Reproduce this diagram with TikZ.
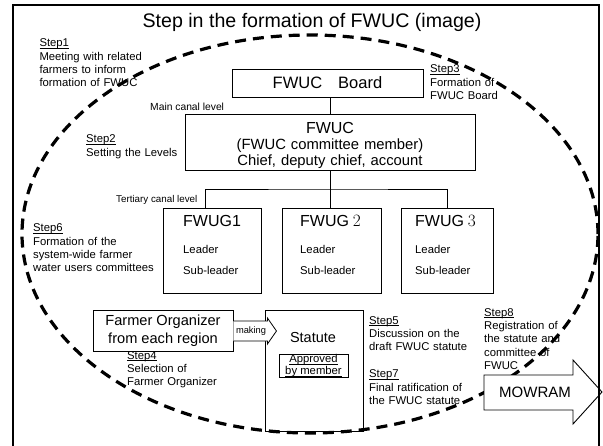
\documentclass[tikz,border=0pt]{standalone}
\usepackage{fontspec}
\setmainfont{Liberation Sans}
% underline that sits just below the baseline, ignoring descenders
\newcommand\stepul[1]{\underline{\raisebox{0pt}[\height][0pt]{#1}}}
\begin{document}
\begin{tikzpicture}[x=1pt,y=-1pt,
  box/.style={draw, line width=0.9pt, fill=white},
  link/.style={line width=0.9pt},
  steptext/.style={anchor=base west, inner sep=0pt, text width=150pt, align=left,
    font=\fontsize{11.3}{13.4}\selectfont},
  levelnote/.style={anchor=base west, inner sep=0pt, font=\fontsize{10.3}{12}\selectfont},
  grouptext/.style={anchor=base west, inner sep=0pt, text width=80pt, align=left,
    font=\fontsize{11.3}{20.7}\selectfont},
  dashline/.style={line width=3.2pt, dash pattern=on 11pt off 7pt}]
\clip (0,0) rectangle (603,445);
\fill[white] (0,0) rectangle (603,445);

% title
\node[anchor=base, inner sep=0pt, font=\fontsize{19.6}{22}\selectfont] (title) at (312,27)
  {Step in the formation of FWUC (image)};

% committee hierarchy
\node[box, minimum width=191pt, minimum height=28pt, inner sep=0pt,
  font=\fontsize{16.5}{18}\selectfont] (board) at (327.5,83) {FWUC\hspace{16pt}Board};
\node[box, minimum width=290pt, minimum height=56pt] (fwuc) at (330,142) {};
\node[anchor=base, inner sep=0pt, text width=290pt, align=center,
  font=\fontsize{14.8}{16}\selectfont] (fwuctext) at (330,133.3)
  {{\fontsize{16}{16}\selectfont FWUC}\\(FWUC committee member)\\Chief, deputy chief, account};

\node[box, minimum width=98pt, minimum height=85pt] (fwug1) at (212,250.5) {};
\node[box, minimum width=99pt, minimum height=85pt] (fwug2) at (331.5,250.5) {};
\node[box, minimum width=92pt, minimum height=85pt] (fwug3) at (447,250.5) {};

\node[grouptext] (g1) at (183,226.7)
  {{\fontsize{16}{16}\selectfont FWUG1}\\[6pt]Leader\\Sub-leader};
\node[grouptext] (g2) at (300,226.7)
  {{\fontsize{16}{16}\selectfont FWUG $2$}\\[6pt]Leader\\Sub-leader};
\node[grouptext] (g3) at (415,226.7)
  {{\fontsize{16}{16}\selectfont FWUG $3$}\\[6pt]Leader\\Sub-leader};

\coordinate (bus) at (330,189);
\draw[link] (board.south -| fwuc.north) -- (fwuc.north);
\draw[link] (fwuc.south) -- (fwug2.north -| fwuc.south);
\draw[link] ([xshift=-7pt]fwug1.north) |- (bus) -| (fwug3.north);

\node[levelnote] (mainlevel) at (150,110) {Main canal level};
\node[levelnote, font=\fontsize{9.8}{12}\selectfont] (terlevel) at (116,202.3) {Tertiary canal level};

% farmer organizer and statute
\node[box, minimum width=140pt, minimum height=41pt, inner sep=0pt, align=center,
  font=\fontsize{14.6}{17.5}\selectfont] (farmer) at (163,330.5)
  {Farmer Organizer\\from each region};
\node[box, minimum width=98pt, minimum height=121pt] (statute) at (314,370.5) {};
\node[anchor=base, inner sep=0pt, font=\fontsize{14.5}{16}\selectfont] (statutetitle)
  at (313,342) {Statute};
\node[draw, line width=0.8pt, minimum width=69pt, minimum height=23pt, inner sep=0pt,
  align=center, font=\fontsize{11.3}{12.5}\selectfont] (approved) at (313.5,365.5)
  {\stepul{Approved}\\\stepul{by member}};

\draw[box, line width=0.8pt] ([yshift=9.5pt]farmer.east) -- ++(34,0) -- ++(0,-3)
  -- ++(9,13) -- ++(-9,13) -- ++(0,-3) -- ([yshift=-10.5pt]farmer.east);
\node[inner sep=0pt, font=\fontsize{9.3}{10}\selectfont] (making) at (251,331) {making};

% step notes
\node[steptext] (step1) at (39.3,46.7)
  {\stepul{Step1}\\Meeting with related\\farmers to inform\\formation of FWUC};
\node[steptext] (step2) at (86,142.7) {\stepul{Step2}\\Setting the Levels};
\node[steptext] (step3) at (430,72.7) {\stepul{Step3}\\Formation of\\FWUC Board};
\node[steptext] (step6) at (33,231.7)
  {\stepul{Step6}\\Formation of the\\system-wide farmer\\water users committees};
\node[steptext] (step4) at (127,359) {\stepul{Step4}\\Selection of\\Farmer Organizer};
\node[steptext] (step5) at (369,324) {\stepul{Step5}\\Discussion on the\\draft FWUC statute};
\node[steptext] (step7) at (369,377.7) {\stepul{Step7}\\Final ratification of\\the FWUC statute};
\node[steptext] (step8) at (484,316)
  {\stepul{Step8}\\Registration of\\the statute and\\committee of\\FWUC};

% dashed boundary of the process
\draw[dashline] (310,234) ellipse [x radius=288pt, y radius=199pt];

% registration arrow
\draw[box] (484,375) -- (573,375) -- (573,360) -- (602,392) -- (573,424) -- (573,410)
  -- (484,410) -- cycle;
\node[inner sep=0pt, font=\fontsize{15}{16}\selectfont] (mowram) at (535,392.5) {MOWRAM};

% outer frame
\draw[line width=2pt] (13,470) -- (13,5) -- (599,5) -- (599,470);
\end{tikzpicture}
\end{document}
